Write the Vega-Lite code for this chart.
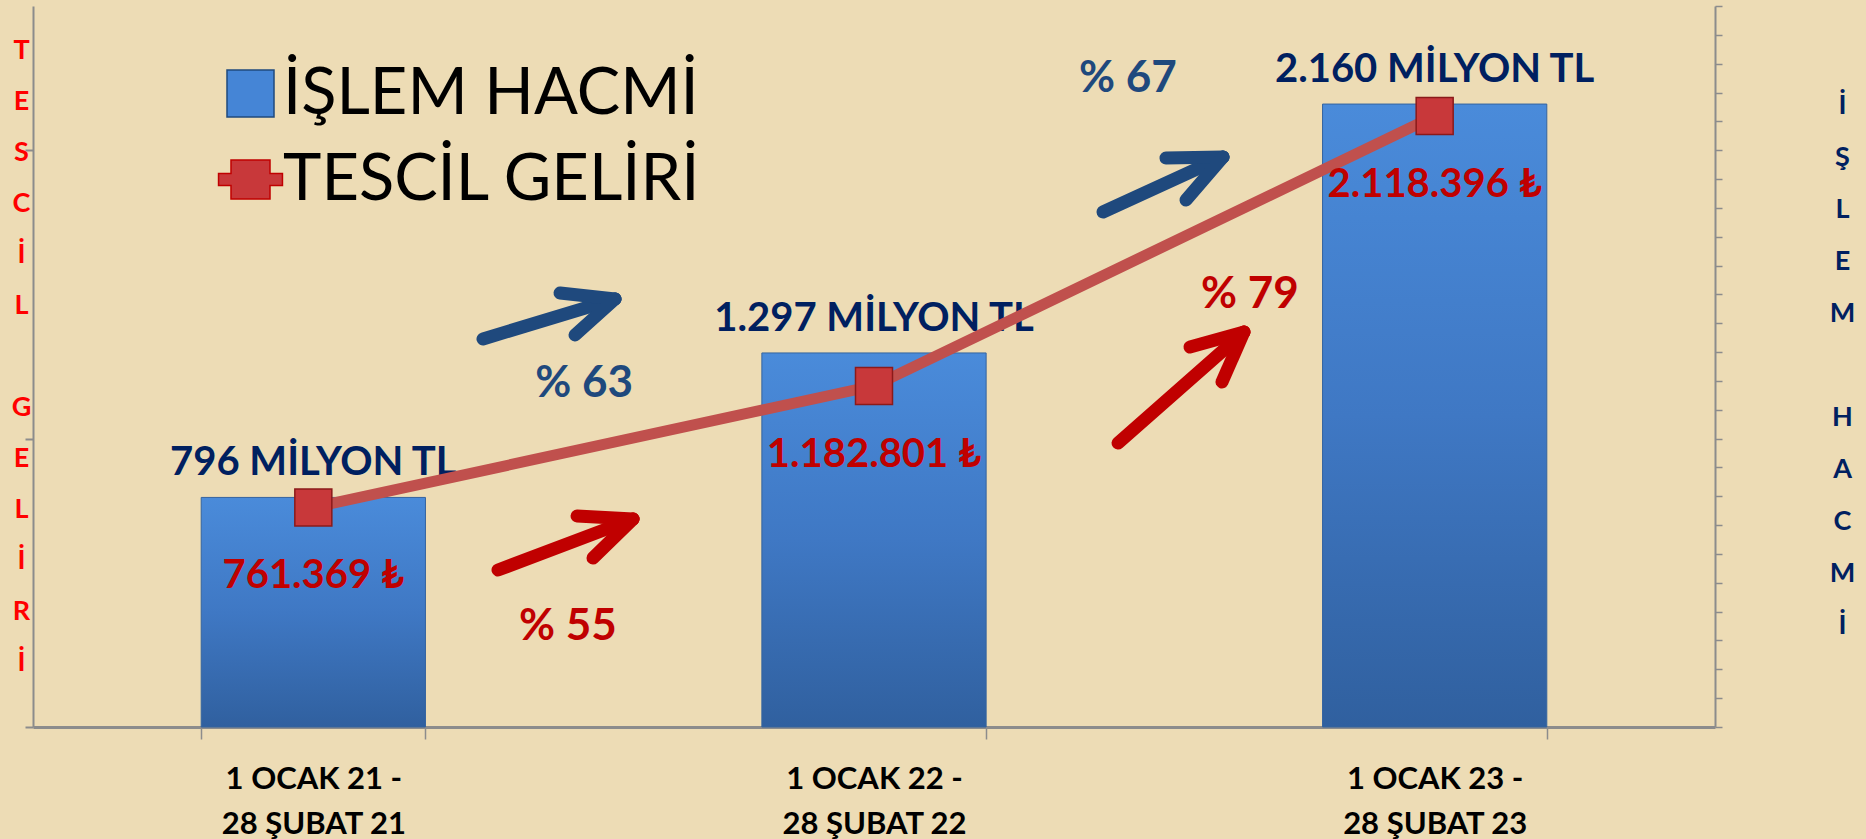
{
  "$schema": "https://vega.github.io/schema/vega-lite/v6.json",
  "width": 1682,
  "height": 721,
  "autosize": {"type": "none"},
  "padding": {"left": 33, "top": 6, "right": 151, "bottom": 112},
  "background": "#EDDCB5",
  "config": {"view": {"stroke": null}, "font": "Lato"},
  "datasets": {
    "donemler": [
      {"donem": "1 OCAK 21 -|28 ŞUBAT 21", "islem": 796, "tescil": 761369, "islemEtiket": "796 MİLYON TL", "tescilEtiket": "761.369 ₺"},
      {"donem": "1 OCAK 22 -|28 ŞUBAT 22", "islem": 1297, "tescil": 1182801, "islemEtiket": "1.297 MİLYON TL", "tescilEtiket": "1.182.801 ₺"},
      {"donem": "1 OCAK 23 -|28 ŞUBAT 23", "islem": 2160, "tescil": 2118396, "islemEtiket": "2.160 MİLYON TL", "tescilEtiket": "2.118.396 ₺"}
    ],
    "oklar": [
      {"seri": "İŞLEM HACMİ", "x": 0.8026, "y": 1345.4, "x2": 1.0381, "y2": 1484.0},
      {"seri": "İŞLEM HACMİ", "x": 0.9400, "y": 1504.9, "x2": 1.0381, "y2": 1484.0},
      {"seri": "İŞLEM HACMİ", "x": 0.9667, "y": 1359.2, "x2": 1.0381, "y2": 1484.0},
      {"seri": "TESCİL GELİRİ", "x": 0.8294, "y": 544.4, "x2": 1.0702, "y2": 721.2},
      {"seri": "TESCİL GELİRİ", "x": 0.9703, "y": 731.6, "x2": 1.0702, "y2": 721.2},
      {"seri": "TESCİL GELİRİ", "x": 0.9988, "y": 586.0, "x2": 1.0702, "y2": 721.2},
      {"seri": "İŞLEM HACMİ", "x": 1.9084, "y": 1785.7, "x2": 2.1225, "y2": 1976.4},
      {"seri": "İŞLEM HACMİ", "x": 2.0208, "y": 1972.9, "x2": 2.1225, "y2": 1976.4},
      {"seri": "İŞLEM HACMİ", "x": 2.0565, "y": 1827.3, "x2": 2.1225, "y2": 1976.4},
      {"seri": "TESCİL GELİRİ", "x": 1.9352, "y": 984.7, "x2": 2.1599, "y2": 1369.6},
      {"seri": "TESCİL GELİRİ", "x": 2.0636, "y": 1317.6, "x2": 2.1599, "y2": 1369.6},
      {"seri": "TESCİL GELİRİ", "x": 2.1207, "y": 1196.3, "x2": 2.1599, "y2": 1369.6}
    ],
    "oranlar": [
      {"seri": "islem", "x": 0.9828, "y": 1144.2, "etiket": "% 63"},
      {"seri": "tescil", "x": 0.9542, "y": 301.7, "etiket": "% 55"},
      {"seri": "islem", "x": 1.9530, "y": 2201.8, "etiket": "% 67"},
      {"seri": "tescil", "x": 2.1706, "y": 1452.8, "etiket": "% 79"}
    ]
  },
  "layer": [
    {
      "data": {"name": "donemler"},
      "encoding": {
        "x": {
          "field": "donem", "type": "nominal", "sort": null,
          "scale": {"paddingInner": 0.6, "paddingOuter": 0.3},
          "axis": {
            "title": null, "labelExpr": "split(datum.label, '|')", "labelAngle": 0,
            "labelFontSize": 31, "labelFontWeight": "bold", "labelColor": "#000000", "labelFont": "Lato",
            "labelLineHeight": 45, "labelBaseline": "top", "labelPadding": 25, "labelLimit": 0,
            "tickBand": "extent", "tickSize": 12, "tickColor": "#8C8C8C", "tickWidth": 1.5,
            "domainColor": "#8C8C8C", "domainWidth": 3, "grid": false
          }
        },
        "y": {
          "field": "islem", "type": "quantitative",
          "scale": {"domain": [0, 2500], "nice": false},
          "axis": {
            "orient": "right", "values": [0,100,200,300,400,500,600,700,800,900,1000,1100,1200,1300,1400,1500,1600,1700,1800,1900,2000,2100,2200,2300,2400,2500],
            "labels": false, "tickSize": 7, "tickColor": "#8C8C8C", "tickWidth": 1.5,
            "domainColor": "#8C8C8C", "domainWidth": 2, "grid": false,
            "title": ["İ","Ş","L","E","M","\u200b","H","A","C","M","İ"],
            "titleColor": "#002060", "titleFontSize": 27, "titleFontWeight": "bold", "titleFont": "Lato",
            "titleAngle": 0, "titleX": 127, "titleY": 99, "titleAlign": "center", "titleBaseline": "middle",
            "titleLineHeight": 52
          }
        }
      },
      "layer": [
        {
          "mark": {
            "type": "bar",
            "color": {"gradient": "linear", "x1": 0, "y1": 0, "x2": 0, "y2": 1,
              "stops": [{"offset": 0, "color": "#4A8BDA"}, {"offset": 0.5, "color": "#3F78C4"}, {"offset": 1, "color": "#30609F"}]},
            "stroke": "#35649F", "strokeWidth": 1
          }
        },
        {
          "mark": {"type": "text", "dy": -22, "baseline": "alphabetic", "align": "center", "fontSize": 40, "fontWeight": "bold", "color": "#002060", "font": "Lato"},
          "encoding": {"text": {"field": "islemEtiket"}}
        }
      ]
    },
    {
      "data": {"name": "donemler"},
      "encoding": {
        "x": {"field": "donem", "type": "nominal", "sort": null, "scale": {"paddingInner": 0.6, "paddingOuter": 0.3}, "axis": null},
        "y": {
          "field": "tescil", "type": "quantitative",
          "scale": {"domain": [0, 2500000], "nice": false},
          "axis": {
            "orient": "left", "values": [0, 1000000, 2000000], "labels": false,
            "tickSize": 8, "tickColor": "#8C8C8C", "tickWidth": 2,
            "domainColor": "#8C8C8C", "domainWidth": 2, "grid": false,
            "title": ["T","E","S","C","İ","L","\u200b","G","E","L","İ","R","İ"],
            "titleColor": "#FF0000", "titleFontSize": 27, "titleFontWeight": "bold", "titleFont": "Lato",
            "titleAngle": 0, "titleX": -12, "titleY": 44, "titleAlign": "center", "titleBaseline": "middle",
            "titleLineHeight": 51
          }
        }
      },
      "layer": [
        {"mark": {"type": "line", "color": "#C0504D", "strokeWidth": 11}},
        {
          "mark": {"type": "point", "shape": "square", "filled": true, "size": 1369, "fill": "#C8383A", "stroke": "#8B1A1A", "strokeWidth": 1.5, "opacity": 1}
        },
        {
          "mark": {"type": "text", "dy": 81, "baseline": "alphabetic", "align": "center", "fontSize": 40, "fontWeight": "bold", "color": "#C00000", "font": "Lato"},
          "encoding": {"text": {"field": "tescilEtiket"}}
        },
        {
          "data": {"values": []},
          "mark": {"type": "point", "filled": true, "opacity": 1, "strokeWidth": 1.5},
          "encoding": {
            "color": {
              "field": "seri", "type": "nominal",
              "scale": {"domain": ["İŞLEM HACMİ", "TESCİL GELİRİ"], "range": ["#4585D6", "#C8383A"]},
              "legend": {
                "title": null, "orient": "none", "legendX": 185, "legendY": 55,
                "labelFontSize": 65, "labelFont": "Lato", "labelFontWeight": "normal", "labelColor": "#000000",
                "labelLimit": 0, "labelOffset": 0, "symbolSize": 2209,
                "rowPadding": 20, "padding": 0, "symbolStrokeWidth": 1.5
              }
            },
            "shape": {
              "field": "seri", "type": "nominal",
              "scale": {"domain": ["İŞLEM HACMİ", "TESCİL GELİRİ"], "range": ["square", "M-1.36,-0.26H-0.83V-0.83H0.83V-0.26H1.36V0.26H0.83V0.83H-0.83V0.26H-1.36Z"]},
              "legend": {
                "title": null, "orient": "none", "legendX": 185, "legendY": 55,
                "labelFontSize": 65, "labelFont": "Lato", "labelFontWeight": "normal", "labelColor": "#000000",
                "labelLimit": 0, "labelOffset": 0, "symbolSize": 2209,
                "rowPadding": 20, "padding": 0, "symbolStrokeWidth": 1.5
              }
            },
            "stroke": {
              "field": "seri", "type": "nominal",
              "scale": {"domain": ["İŞLEM HACMİ", "TESCİL GELİRİ"], "range": ["#1F497D", "#C00000"]},
              "legend": {
                "title": null, "orient": "none", "legendX": 185, "legendY": 55,
                "labelFontSize": 65, "labelFont": "Lato", "labelFontWeight": "normal", "labelColor": "#000000",
                "labelLimit": 0, "labelOffset": 0, "symbolSize": 2209,
                "rowPadding": 20, "padding": 0, "symbolStrokeWidth": 1.5
              }
            }
          }
        }
      ]
    },
    {
      "layer": [
        {
          "data": {"name": "oklar"},
          "mark": {"type": "rule", "strokeWidth": 13, "strokeCap": "round"},
          "encoding": {
            "x": {"field": "x", "type": "quantitative", "scale": {"domain": [0, 3], "nice": false, "zero": false}, "axis": null},
            "y": {"field": "y", "type": "quantitative", "scale": {"domain": [0, 2500], "nice": false, "zero": false}, "axis": null},
            "x2": {"field": "x2"},
            "y2": {"field": "y2"},
            "stroke": {
              "field": "seri", "type": "nominal",
              "scale": {"domain": ["İŞLEM HACMİ", "TESCİL GELİRİ"], "range": ["#1F497D", "#C00000"]},
              "legend": {
                "title": null, "orient": "none", "legendX": 185, "legendY": 55,
                "labelFontSize": 65, "labelFont": "Lato", "labelFontWeight": "normal", "labelColor": "#000000",
                "labelLimit": 0, "labelOffset": 0, "symbolSize": 2209,
                "rowPadding": 20, "padding": 0, "symbolStrokeWidth": 1.5
              }
            }
          }
        },
        {
          "data": {"name": "oranlar"},
          "mark": {"type": "text", "baseline": "alphabetic", "align": "center", "fontSize": 44, "fontWeight": "bold", "font": "Lato"},
          "encoding": {
            "x": {"field": "x", "type": "quantitative", "scale": {"domain": [0, 3], "nice": false, "zero": false}, "axis": null},
            "y": {"field": "y", "type": "quantitative", "scale": {"domain": [0, 2500], "nice": false, "zero": false}, "axis": null},
            "text": {"field": "etiket"},
            "fill": {"field": "seri", "type": "nominal", "scale": {"domain": ["islem", "tescil"], "range": ["#1F497D", "#C00000"]}, "legend": null}
          }
        }
      ]
    }
  ],
  "resolve": {"scale": {"x": "independent", "y": "independent"}}
}
